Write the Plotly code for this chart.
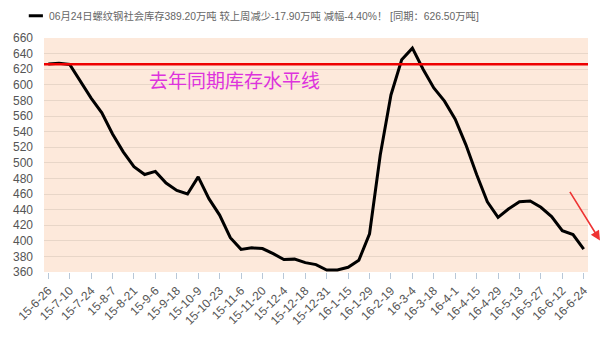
import plotly.graph_objects as go

# Weekly rebar social inventory (10k tonnes), 2015-06-26 .. 2016-06-24
inventory = [
    626.8, 627.5, 626.0, 604.5, 583.0, 564.0, 537.0, 514.0, 495.0, 485.0,
    489.0, 474.0, 464.5, 460.0, 482.0, 454.0, 433.0, 404.0, 389.0, 391.0,
    390.0, 383.5, 376.0, 376.5, 372.0, 369.5, 362.5, 362.5, 366.0, 375.0,
    409.0, 510.0, 587.0, 632.0, 647.0, 620.0, 596.0, 579.0, 556.0, 523.0,
    485.0, 450.0, 430.0, 441.0, 450.0, 451.0, 443.0, 431.0, 413.0, 408.0,
    389.2,
]
# Every second week carries a date label
tick_labels = [
    "15-6-26", "15-7-10", "15-7-24", "15-8-7", "15-8-21", "15-9-6",
    "15-9-18", "15-10-9", "15-10-23", "15-11-6", "15-11-20", "15-12-4",
    "15-12-18", "15-12-31", "16-1-15", "16-1-29", "16-2-19", "16-3-4",
    "16-3-18", "16-4-1", "16-4-15", "16-4-29", "16-5-13", "16-5-27",
    "16-6-12", "16-6-24",
]
last_year_level = 626.5
legend_text = "06月24日螺纹钢社会库存389.20万吨 较上周减少-17.90万吨 减幅-4.40%！ [同期：626.50万吨]"
level_label = "去年同期库存水平线"

FONT = "Liberation Sans, Arial, Noto Sans CJK SC, sans-serif"
CJK = "Noto Sans CJK SC, sans-serif"

week_idx = list(range(len(inventory)))
tick_idx = week_idx[::2]

fig = go.Figure()
fig.add_trace(go.Scatter(
    x=week_idx, y=inventory, mode="lines",
    line=dict(color="black", width=3),
    showlegend=False, hoverinfo="y",
))

# Same-period-last-year reference line across the full plot width
fig.add_shape(type="line", xref="paper", x0=0, x1=1, yref="y",
              y0=last_year_level, y1=last_year_level,
              line=dict(color="#ee0000", width=2.5))

fig.add_annotation(x=0.189, xref="paper", y=607, yref="y",
                   text=level_label, showarrow=False, xanchor="left",
                   font=dict(family=CJK, size=19, color="#dd33dd"))

# Legend row: short line sample plus caption
fig.add_shape(type="line", xref="paper", yref="paper",
              x0=-0.028, x1=-0.002, y0=1.095, y1=1.095,
              line=dict(color="black", width=3))
fig.add_annotation(x=0.006, xref="paper", y=1.095, yref="paper",
                   text=legend_text, showarrow=False, xanchor="left",
                   yanchor="middle",
                   font=dict(family=FONT, size=10.3, color="#666666"))

# Red downward arrow at the right edge
fig.add_annotation(x=1.022, xref="paper", y=0.135, yref="paper",
                   ax=-31, ay=-50, axref="pixel", ayref="pixel",
                   text="", showarrow=True, arrowhead=2, arrowsize=1.2,
                   arrowwidth=1.6, arrowcolor="#ee3333")

fig.update_layout(
    width=614, height=346,
    margin=dict(l=44, r=26, t=38, b=74),
    paper_bgcolor="white", plot_bgcolor="#fde9db",
    font=dict(family=FONT, size=12, color="#555555"),
)
fig.update_xaxes(
    range=[-0.4, len(inventory) - 0.6],
    tickvals=tick_idx, ticktext=tick_labels, tickangle=-45,
    ticks="outside", ticklen=6, tickcolor="#b8c8d8",
    showgrid=False, zeroline=False, showline=False,
    tickfont=dict(size=12, color="#555555"),
)
fig.update_yaxes(
    range=[360, 660], dtick=20, showgrid=True, gridcolor="#e8d6c8",
    gridwidth=1, zeroline=False, showline=False,
    ticklabelstandoff=10,
    tickfont=dict(size=12, color="#555555"),
)

fig.write_html("out.html")
